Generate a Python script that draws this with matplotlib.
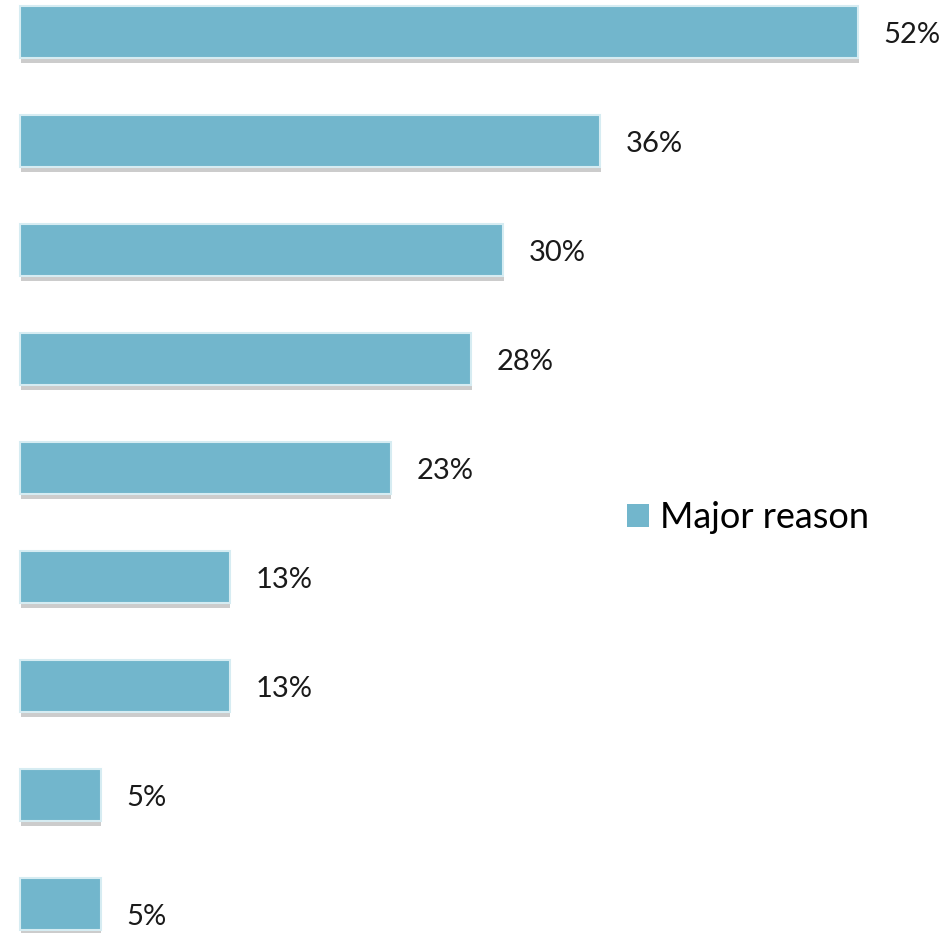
import matplotlib
matplotlib.use("Agg")
import matplotlib.pyplot as plt
import matplotlib.patheffects as pe
import numpy as np

# Share of respondents citing each item as a major reason (top to bottom)
values = [52, 36, 30, 28, 23, 13, 13, 5, 5]
labels = [f"{v}%" for v in values]
series_name = "Major reason"

BAR_COLOR = "#72B6CC"

plt.rcParams["font.family"] = ["Lato", "DejaVu Sans"]

fig = plt.figure(figsize=(9.53, 9.33), dpi=100)
ax = fig.add_axes([0, 0, 1, 1])

y = np.arange(len(values))
shadow = [pe.SimplePatchShadow(offset=(0.5, -4), shadow_rgbFace="#9a9a9a", alpha=0.5),
          pe.Normal()]
bars = ax.barh(y, values, height=0.47, color=BAR_COLOR, edgecolor="#D6ECF2",
               linewidth=1.5, label=series_name, path_effects=shadow)

for i, (yi, v, lab) in enumerate(zip(y, values, labels)):
    # the bottom label sits a little lower in the original
    dy = 0.12 if i == len(values) - 1 else 0.03
    ax.text(v + 1.6, yi + dy, lab, va="center", ha="left", fontsize=21, color="#1a1a1a")

# map pixel layout: 0% at x=20px, 52% at x=858px; bar centres 109px apart
px_per_unit = (858 - 20) / 52
ax.set_xlim(-20 / px_per_unit, (953 - 20) / px_per_unit)
ax.set_ylim((933 - 32) / 109, -32 / 109)
ax.axis("off")

leg = fig.legend(handles=[bars], labels=[series_name], loc="center left",
                 bbox_to_anchor=(0.624, 0.445), frameon=False, fontsize=26,
                 handlelength=0.6, handleheight=0.6, handletextpad=0.3)
for h in leg.legend_handles:
    h.set_path_effects([])
    h.set_edgecolor("none")

fig.savefig("out.png", dpi=100, facecolor="white")
